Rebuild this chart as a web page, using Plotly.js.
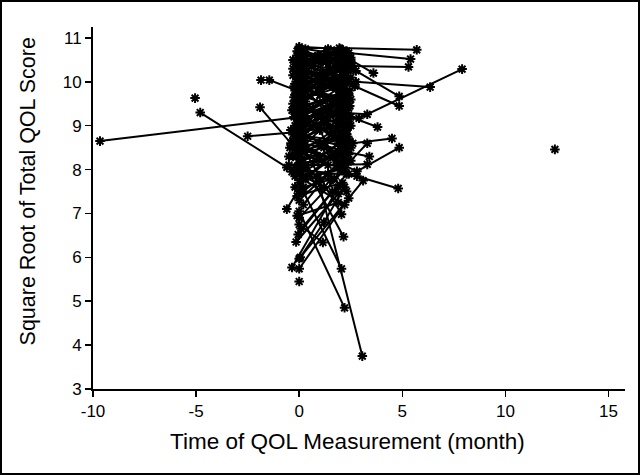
<!DOCTYPE html>
<html>
<head>
<meta charset="utf-8">
<script src="https://cdn.plot.ly/plotly-3.0.1.min.js"></script>
<style>
  html, body { margin: 0; padding: 0; background: #fff; }
  #frame { box-sizing: border-box; width: 640px; height: 475px; border: 2px solid #000; overflow: hidden; }
  #chart { width: 636px; height: 471px; }
</style>
</head>
<body>
<div id="frame"><div id="chart"></div></div>
<script>
// Each inner array is one patient: visit times (months) and sqrt(total QOL score)
const months = [
  [-9.66, 0.0, 1.5], [-5.05], [-4.8, -0.6, 1.2], [-1.85, -1.45, -0.1, 1.8],
  [-1.9, -0.4, 1.0], [-2.5, -0.2, 2.1], [-0.6, 0.3, 2.0], [12.4],
  [0.0, 1.95, 5.7], [-0.1, 2.4, 5.4], [0.1, 2.6, 5.3], [0.0, 2.75, 4.85],
  [0.2, 2.7, 4.85], [0.1, 2.75, 6.35], [-0.1, 2.9, 7.9], [0.0, 3.3],
  [0.2, 2.5, 3.8], [-0.1, 2.6, 4.5], [0.0, 2.8, 4.85], [0.2, 2.3, 3.4],
  [0.0, 2.8, 4.8], [0.3, 3.3], [-0.1, 0.9, 3.06], [0.0, 2.2],
  [0.0], [0.0, 2.4], [-0.35, 1.9], [0.0, 3.1],
  [0.2, 2.05], [0.5, 2.15], [0.05, 1.2, 2.2], [0.0, 1.15],
  [-0.05, 2.3], [0.3, 2.05], [0.0, 1.8], [-0.2, 1.5, 2.4],
  [0.1, 2.2], [-0.3, 2.0], [0.25, 1.1, 2.1], [0.0, 2.1],
  [-0.1, 1.6], [0.15, 2.3], [-0.25, 1.9], [0.05, 0.8, 2.2],
  [0.3, 2.0], [-0.15, 2.45], [0.0, 1.7], [0.2, 2.1],
  [-0.4, 1.2, 2.3], [0.1, 2.2], [-0.2, 1.9], [0.0, 2.4],
  [0.3, 1.5], [-0.1, 2.0], [0.0, 1.8], [0.2, 2.2],
  [-0.3, 2.0], [0.05, 1.9], [0.15, 0.9, 2.35], [-0.05, 2.3],
  [0.1, 2.2], [-0.2, 2.5], [0.0, 1.6, 2.4], [0.25, 2.1],
  [-0.5, 0.1, 1.9], [-0.5, 2.0], [-0.45, 1.4], [0.0, 1.3, 2.3],
  [0.2, 2.45], [-0.1, 2.15], [0.1, 2.3], [0.0, 1.0, 2.1],
  [-0.25, 2.2], [0.3, 2.05], [0.0, 2.3], [0.1, 1.9],
  [-0.2, 2.1], [0.0, 2.3], [0.2, 1.7], [-0.1, 2.1],
  [0.0, 2.2], [0.1, 1.6], [-0.15, 1.9], [0.0, 2.5, 3.3],
  [0.15, 2.5, 3.6], [0.0, 1.0, 2.1], [-0.2, 0.9, 2.2], [0.2, 1.8],
  [-0.3, 1.5, 2.3], [0.0, 2.0], [0.1, 1.2, 2.5], [-0.1, 1.9],
  [0.3, 2.2], [-0.2, 1.7, 2.4], [0.0, 2.0], [-0.3, 1.6, 2.3],
  [0.2, 2.1], [0.0, 1.9], [-0.2, 2.2], [0.1, 1.4, 2.4],
  [0.3, 2.0], [-0.1, 2.3], [0.0, 2.0], [-0.2, 1.8],
  [0.1, 2.2], [-0.3, 1.0, 2.0],
  [0.0, 2.0], [-0.1, 1.2, 2.2], [0.2, 1.9], [0.1, 0.7, 2.3],
  [-0.3, 2.1], [0.0, 1.6, 2.4], [0.25, 2.2], [-0.2, 1.1, 2.0],
  [0.1, 2.5], [0.0, 1.8], [-0.35, 2.3], [0.3, 1.3, 2.2],
  [0.0, 2.1], [-0.1, 1.7, 2.5], [0.15, 2.0], [0.0, 2.4],
  [-0.25, 1.5, 2.2], [0.2, 1.9], [0.0, 2.3], [-0.1, 1.2, 2.1],
  [0.1, 2.0], [-0.35, 1.8], [0.0, 2.2], [0.2, 1.4, 2.3],
  [-0.1, 1.9], [0.0, 0.6, 1.7], [0.3, 2.4], [-0.15, 2.1],
  [0.05, 1.9], [0.2, 2.45], [-0.05, 2.3], [0.1, 1.0, 2.0],
  [-0.2, 2.4], [0.25, 1.6], [0.0, 2.2], [-0.3, 2.0],
  [0.1, 1.2, 2.35], [0.0, 2.5], [-0.2, 1.5], [0.2, 2.1],
  [0.0, 1.4], [-0.1, 2.5], [0.3, 1.8], [0.0, 2.0],
  [-0.25, 2.15], [0.1, 2.45]
];
const scores = [
  [8.65, 9.2, 9.6], [9.63], [9.3, 8.05, 7.6], [10.04, 10.04, 9.8, 10.3],
  [9.42, 8.6, 8.3], [8.76, 8.85, 9.0], [7.1, 7.8, 8.4], [8.46],
  [10.77, 10.77, 10.73], [10.6, 10.66, 10.52], [10.5, 10.36, 10.34], [9.9, 10.25, 9.67],
  [10.3, 9.9, 9.45], [9.6, 10.0, 9.88], [9.4, 9.17, 10.29], [9.35, 9.26],
  [9.0, 9.2, 8.97], [8.8, 8.6, 8.71], [8.6, 7.96, 8.5], [8.7, 8.4, 8.3],
  [8.0, 7.85, 7.57], [8.1, 8.12], [8.3, 7.8, 3.75], [7.05, 4.85],
  [5.45], [5.74, 7.35], [5.77, 7.6], [5.97, 7.75],
  [7.5, 5.74], [7.9, 6.47], [6.0, 6.8, 7.6], [6.75, 6.34],
  [6.52, 7.9], [8.4, 6.98], [7.3, 8.1], [7.6, 8.3, 7.9],
  [7.8, 7.2], [10.5, 10.1], [10.2, 9.9, 10.35], [9.55, 10.15],
  [10.1, 9.6], [9.75, 10.4], [9.2, 9.7], [9.45, 9.0, 9.55],
  [9.55, 8.8], [8.95, 9.45], [8.75, 9.3], [9.25, 8.55],
  [8.9, 8.6, 9.2], [10.35, 9.85], [10.25, 10.6], [10.55, 10.0],
  [9.95, 10.3], [9.15, 9.9], [9.85, 9.25], [8.45, 9.05],
  [8.65, 9.35], [8.3, 8.9], [9.65, 9.2, 8.75], [10.4, 10.7],
  [10.75, 10.3], [9.95, 10.1], [9.25, 8.8, 8.35], [8.85, 9.65],
  [8.3, 8.7, 9.1], [8.1, 8.3], [8.5, 8.1], [10.0, 10.45, 10.55],
  [9.45, 9.8], [8.55, 8.15], [10.15, 9.3], [9.0, 9.7, 9.55],
  [9.65, 10.2], [10.45, 9.75], [8.15, 8.95], [7.95, 8.6],
  [7.85, 8.45], [7.45, 8.2], [7.6, 7.8], [7.4, 7.7],
  [6.9, 8.0], [6.65, 7.5], [6.35, 7.45], [8.9, 8.2, 8.6],
  [10.6, 10.5, 10.2], [10.7, 10.5, 10.72], [10.4, 10.6, 10.5], [10.65, 10.3],
  [10.3, 10.55, 10.2], [10.2, 10.6], [10.45, 10.2, 10.45], [10.0, 10.4],
  [10.1, 10.0], [9.8, 10.1, 9.7], [9.7, 9.4], [9.5, 9.9, 9.6],
  [9.3, 9.8], [9.1, 9.5], [9.0, 9.3], [8.9, 9.4, 9.1],
  [9.8, 9.0], [9.6, 8.9], [8.4, 8.7], [8.5, 8.2],
  [8.2, 8.5], [8.3, 8.9, 8.0],
  [10.8, 10.75], [10.7, 10.6, 10.65], [10.55, 10.45], [10.25, 10.5, 10.35],
  [10.15, 9.95], [10.05, 10.25, 10.4], [9.9, 10.55], [9.7, 10.0, 9.8],
  [9.85, 9.6], [9.6, 10.0], [9.35, 9.75], [9.4, 9.1, 9.45],
  [9.2, 9.6], [9.05, 9.55, 9.0], [8.95, 9.15], [8.8, 9.4],
  [8.7, 8.95, 8.6], [8.6, 8.4], [8.5, 8.8], [8.35, 8.5, 8.25],
  [8.05, 8.6], [7.95, 8.35], [7.7, 8.1], [7.2, 7.9, 7.5],
  [6.95, 7.25], [10.65, 10.35, 10.7], [10.75, 10.6], [10.45, 10.25],
  [10.3, 9.95], [10.0, 10.3], [9.75, 10.05], [9.5, 9.8, 10.0],
  [9.3, 9.0], [9.15, 9.45], [8.95, 9.75], [8.8, 8.55],
  [8.65, 9.05, 8.95], [8.25, 8.5], [8.05, 7.75], [7.85, 8.0],
  [10.5, 10.75], [10.35, 10.55], [10.25, 9.85], [9.4, 9.2],
  [9.9, 9.5], [9.1, 8.65]
];
const xTicks = [-10, -5, 0, 5, 10, 15];
const yTicks = [3, 4, 5, 6, 7, 8, 9, 10, 11];
const xTitle = 'Time of QOL Measurement (month)';
const yTitle = 'Square Root of Total QOL Score';

const xs = [], ys = [];
months.forEach((m, i) => {
  m.forEach((t, j) => { xs.push(t); ys.push(scores[i][j]); });
  xs.push(null); ys.push(null);
});

const trace = {
  x: xs, y: ys, type: 'scatter', mode: 'lines+markers', connectgaps: false,
  line: { color: '#000', width: 2 },
  marker: { symbol: 'asterisk-open', size: 8, color: '#000', line: { color: '#000', width: 2 } },
  hoverinfo: 'skip'
};

const tickFont = { family: "'Liberation Sans', Arial, Helvetica, sans-serif", size: 17, color: '#000' };
const titleFamily = "'Liberation Sans', Arial, Helvetica, sans-serif";

const layout = {
  width: 636, height: 471,
  margin: { l: 91, r: 13, t: 25, b: 84 },
  paper_bgcolor: '#fff', plot_bgcolor: '#fff',
  showlegend: false,
  xaxis: {
    range: [-10, 15.8], tickvals: xTicks, ticktext: xTicks.map(String),
    showline: true, linecolor: '#000', linewidth: 2, mirror: false,
    ticks: 'outside', ticklen: 6, tickwidth: 1.5, tickcolor: '#000',
    showgrid: false, zeroline: false, tickfont: tickFont
  },
  yaxis: {
    range: [3, 11.25], tickvals: yTicks, ticktext: yTicks.map(String),
    showline: true, linecolor: '#000', linewidth: 2, mirror: false,
    ticks: 'outside', ticklen: 6, tickwidth: 1.5, tickcolor: '#000',
    showgrid: false, zeroline: false, tickfont: tickFont
  },
  annotations: [
    { text: xTitle, xref: 'paper', yref: 'paper', x: 0.479, y: -0.144,
      xanchor: 'center', yanchor: 'middle', showarrow: false,
      font: { family: titleFamily, size: 22.5, color: '#000' } },
    { text: yTitle, xref: 'paper', yref: 'paper', x: -0.122, y: 0.546,
      xanchor: 'center', yanchor: 'middle', showarrow: false, textangle: -90,
      font: { family: titleFamily, size: 21.5, color: '#000' } }
  ]
};

Plotly.newPlot('chart', [trace], layout, { displayModeBar: false, staticPlot: true });
</script>
</body>
</html>
